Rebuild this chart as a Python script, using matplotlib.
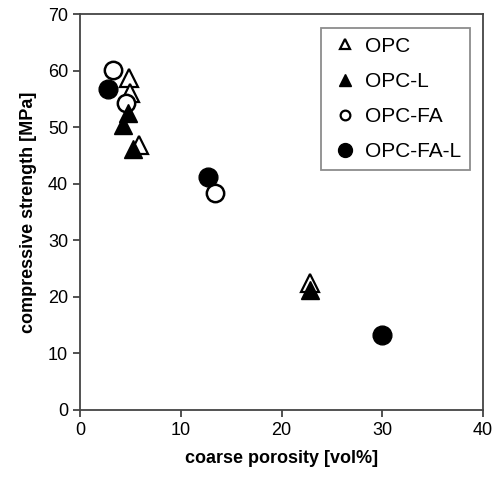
import matplotlib
matplotlib.use('Agg')
import matplotlib.pyplot as plt

# coarse porosity [vol%] vs compressive strength [MPa]
opc_x = [4.9, 5.0, 5.9, 22.8]
opc_y = [58.6, 56.0, 46.8, 22.4]
opcl_x = [4.8, 4.3, 5.3, 22.8]
opcl_y = [52.5, 50.4, 46.2, 21.2]
opcfa_x = [3.3, 4.6, 13.4]
opcfa_y = [60.1, 54.2, 38.4]
opcfal_x = [2.8, 12.7, 30.0]
opcfal_y = [56.7, 41.2, 13.2]

plt.rcParams['font.family'] = 'Liberation Sans'

fig = plt.figure(figsize=(4.93, 4.79), dpi=100)
ax = fig.add_axes([80/493, 1 - 410/479, 403/493, 396/479])

ax.plot(opcfal_x, opcfal_y, 'o', ms=13.5, mfc='black', mec='black', ls='none', zorder=2)
ax.plot(opc_x, opc_y, '^', ms=12.5, mfc='white', mec='black', mew=1.6, ls='none', zorder=3)
ax.plot(opcl_x, opcl_y, '^', ms=12.5, mfc='black', mec='black', ls='none', zorder=4)
ax.plot(opcfa_x, opcfa_y, 'o', ms=12.5, mfc='white', mec='black', mew=1.8, ls='none', zorder=3)

# legend handles
h1, = ax.plot([], [], '^', ms=7.5, mfc='white', mec='black', mew=1.6, label='OPC')
h2, = ax.plot([], [], '^', ms=9, mfc='black', mec='black', label='OPC-L')
h3, = ax.plot([], [], 'o', ms=7, mfc='white', mec='black', mew=1.6, label='OPC-FA')
h4, = ax.plot([], [], 'o', ms=10, mfc='black', mec='black', label='OPC-FA-L')
leg = ax.legend(handles=[h1, h2, h3, h4], loc='upper right', bbox_to_anchor=(0.968, 0.965),
                fontsize=15, frameon=True, fancybox=False, edgecolor='#707070',
                handlelength=1.5, handletextpad=0.2, labelspacing=0.78,
                borderpad=0.42, borderaxespad=0)
leg.get_frame().set_linewidth(1.3)

ax.set_xlim(0, 40)
ax.set_ylim(0, 70)
ax.set_xticks(range(0, 41, 10))
ax.set_yticks(range(0, 71, 10))
ax.tick_params(labelsize=13, direction='out', length=5, width=1.2, colors='#333333',
               labelcolor='black')
for s in ax.spines.values():
    s.set_color('#444444')
    s.set_linewidth(1.3)
ax.set_xlabel('coarse porosity [vol%]', fontsize=13, fontweight='bold', labelpad=8)
ax.set_ylabel('compressive strength [MPa]', fontsize=13, fontweight='bold', labelpad=8)

fig.savefig('out.png', dpi=100)
